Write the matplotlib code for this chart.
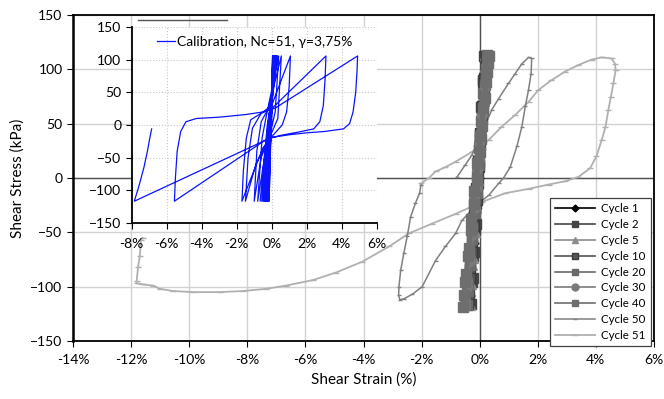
import matplotlib
matplotlib.use("Agg")
import matplotlib.pyplot as plt
import matplotlib.ticker as ticker
from matplotlib.lines import Line2D

plt.rcParams["font.family"] = ["Lato", "DejaVu Sans"]

# ---- laboratory cycles (main plot) ----
c1_strain = [0.00, 0.03, 0.06, 0.10, 0.13, 0.10, 0.06, 0.02, -0.04, -0.09, -0.15, -0.20, -0.25, -0.21, -0.16, -0.10, -0.05]
c1_stress = [0, 25, 55, 85, 110, 80, 50, 20, -10, -40, -70, -95, -115, -90, -60, -30, -5]

c2_strain = [-0.07, -0.04, 0.00, 0.05, 0.10, 0.16, 0.12, 0.07, 0.02, -0.03, -0.08, -0.13, -0.19, -0.24, -0.30, -0.27, -0.22, -0.17, -0.12]
c2_stress = [-5, 15, 40, 65, 90, 112, 88, 62, 36, 10, -15, -42, -68, -92, -116, -96, -72, -48, -24]

c5_strain = [-0.12, -0.06, 0.00, 0.06, 0.115, 0.16, 0.19, 0.14, 0.08, 0.02, -0.04, -0.10, -0.16, -0.22, -0.27, -0.32, -0.35, -0.30, -0.23, -0.17]
c5_stress = [-28, -2, 24, 50, 76, 100, 113, 96, 72, 47, 22, -3, -28, -54, -80, -104, -117, -98, -74, -50]

c10_strain = [-0.11, -0.05, 0.02, 0.085, 0.15, 0.20, 0.22, 0.15, 0.08, 0.00, -0.07, -0.13, -0.20, -0.27, -0.33, -0.38, -0.40, -0.33, -0.25, -0.18]
c10_stress = [-20, 5, 30, 55, 80, 104, 112, 92, 66, 41, 16, -9, -34, -59, -84, -108, -116, -92, -68, -44]

c20_strain = [-0.11, -0.03, 0.04, 0.12, 0.18, 0.24, 0.25, 0.21, 0.13, 0.05, -0.03, -0.11, -0.19, -0.27, -0.34, -0.41, -0.45, -0.41, -0.32, -0.25, -0.17]
c20_stress = [-14, 12, 36, 62, 86, 108, 113, 100, 78, 52, 28, 2, -24, -50, -76, -100, -117, -104, -80, -56, -32]

c30_strain = [-0.10, -0.02, 0.06, 0.15, 0.22, 0.28, 0.25, 0.17, 0.08, -0.02, -0.10, -0.19, -0.27, -0.36, -0.43, -0.49, -0.51, -0.44, -0.35, -0.26, -0.17]
c30_stress = [-8, 18, 42, 68, 92, 110, 104, 84, 58, 33, 8, -18, -44, -70, -94, -112, -118, -100, -76, -52, -28]

c40_strain = [-0.10, 0.00, 0.08, 0.18, 0.26, 0.31, 0.28, 0.21, 0.11, 0.00, -0.09, -0.19, -0.29, -0.38, -0.47, -0.54, -0.57, -0.49, -0.39, -0.29, -0.19]
c40_stress = [-2, 24, 48, 74, 98, 112, 106, 88, 64, 39, 14, -12, -38, -64, -88, -108, -119, -96, -72, -48, -24]

c50_strain = [-0.78, -0.50, -0.27, -0.15, 0.15, 0.42, 0.65, 0.99, 1.22, 1.45, 1.68, 1.79, 1.77, 1.68, 1.57,
              1.45, 1.28, 1.05, 0.82, 0.65, 0.31, -0.03, -0.26, -0.61, -0.83, -1.18, -1.52, -1.98, -2.32,
              -2.60, -2.75, -2.79, -2.78, -2.72, -2.61, -2.49, -2.38, -2.21, -2.07, -2.02]
c50_stress = [1, 12, 21, 29, 46, 63, 73, 87, 96, 105, 111, 110, 96, 81, 66,
              47, 29, 10, 0, -5, -16, -23, -29, -39, -51, -63, -76, -100, -107,
              -111, -112, -108, -100, -85, -69, -53, -36, -23, -14, -6]

c51_strain = [-2.02, -1.75, -1.52, -1.18, -0.83, -0.27, 0.31, 0.75, 1.22, 1.68, 2.02, 2.47, 2.94, 3.40, 3.85,
              4.20, 4.54, 4.66, 4.68, 4.60, 4.52, 4.43, 4.33, 4.20, 4.02, 3.80, 3.40, 2.94, 2.37, 1.68,
              0.88, 0.08, -0.83, -1.64, -2.44, -3.12, -4.04, -4.95, -5.75, -6.67, -7.35, -8.15, -8.95,
              -9.87, -10.56, -11.01, -11.24, -11.58, -11.81, -11.81, -11.76, -11.70, -11.66, -11.60]
c51_stress = [-5, 0, 6, 10, 15, 24, 35, 47, 58, 70, 81, 90, 98, 104, 109,
              111, 110, 105, 99, 87, 75, 63, 47, 35, 20, 9, 1, -3, -6, -10,
              -14, -22, -33, -42, -51, -63, -77, -87, -94, -99, -102, -104, -105,
              -105, -104, -102, -99, -98, -97, -95, -82, -72, -57, -55]

# ---- calibration (inset) ----
calib_strain = [0.00, 0.05, -0.04, -0.15, -0.03,
                0.06, -0.04, -0.18, -0.05,
                0.08, -0.03, -0.20, -0.06,
                0.09, -0.03, -0.23, -0.08,
                0.10, -0.04, -0.25, -0.09,
                0.12, -0.04, -0.28, -0.10,
                0.13, -0.05, -0.30, -0.12,
                0.15, -0.06, -0.33, -0.13,
                0.17, -0.06, -0.36, -0.15,
                0.19, -0.07, -0.40, -0.16,
                0.21, -0.08, -0.45, -0.18,
                0.23, -0.10, -0.50, -0.20,
                0.26, -0.12, -0.57, -0.22,
                0.30, -0.15, -0.66, -0.25,
                0.33, -0.18, -0.80, -0.55, -0.30,
                0.40, 0.20, -0.10, -0.60, -1.00, -0.85, -0.60, -0.20,
                0.55, 0.35, -0.10, -0.90, -1.50, -1.35, -1.10, -0.60, 0.00,
                1.07, 1.00, 0.85, 0.60, 0.00, -0.50, -1.70,
                -1.62, -1.45, -1.20, -0.60, 0.00, 3.10,
                3.05, 2.95, 2.75, 2.40, 1.50, 0.50, -0.30, -5.56,
                -5.50, -5.40, -5.20, -4.90, -4.30, -3.00, -1.50, -0.50, 0.20, 4.91,
                4.88, 4.80, 4.65, 4.45, 4.10, 3.00, 2.00, 1.00, 0.00, -7.85,
                -7.60, -7.30, -7.10, -6.98, -6.86]
calib_stress = [0, 106, 0, -117, 0,
                106, 0, -117, 0,
                106, 0, -117, 0,
                106, 0, -117, 0,
                106, 0, -117, 0,
                106, 0, -117, 0,
                106, 0, -117, 0,
                106, 0, -117, 0,
                106, 0, -117, 0,
                106, 0, -117, 0,
                106, 0, -117, 0,
                106, 0, -117, 0,
                106, 0, -117, 0,
                106, 0, -117, 0,
                106, -10, -117, -20, 15,
                106, 20, -15, -50, -117, -40, 5, 25,
                106, 10, -18, -60, -117, -50, -5, 18, 30,
                106, 60, 20, 0, -18, -35, -117,
                -70, -20, 8, 18, 25, 106,
                70, 30, 5, -6, -11, -16, -22, -117,
                -80, -40, -10, 5, 10, 12, 16, 20, 26, 106,
                85, 50, 20, 2, -6, -10, -12, -15, -19, -117,
                -95, -65, -40, -22, -6]

fig = plt.figure(figsize=(6.64, 3.99), dpi=100)
ax = fig.add_axes([73 / 664, 1 - 341 / 399, 581 / 664, 326 / 399])

ax.set_xlim(-14, 6)
ax.set_ylim(-150, 150)
ax.set_xticks(range(-14, 7, 2))
ax.set_yticks(range(-150, 151, 50))
ax.xaxis.set_major_formatter(ticker.FuncFormatter(lambda x, _: f"{x:.0f}%"))
ax.grid(True, color="#d2d2d2", linewidth=1)
ax.set_axisbelow(True)
ax.axhline(0, color="#505050", linewidth=1, zorder=1)
ax.axvline(0, color="#505050", linewidth=1, zorder=1)
for side in ["left", "right", "top", "bottom"]:
    ax.spines[side].set_color("black")
    ax.spines[side].set_linewidth(1.3)
ax.spines["left"].set_linewidth(1.8)
ax.tick_params(labelsize=10, length=4, color="black")
ax.tick_params(axis="x", pad=5)
ax.set_xlabel("Shear Strain (%)", fontsize=11, labelpad=5)
ax.set_ylabel("Shear Stress (kPa)", fontsize=11, labelpad=4)

ax.plot(c51_strain, c51_stress, color="#b0b0b0", lw=1.3, marker="_", ms=4, mew=1.0)
ax.plot(c50_strain, c50_stress, color="#808080", lw=1.1, marker="_", ms=3, mew=1.0)
ax.plot(c1_strain, c1_stress, color="black", lw=1.2, marker="D", ms=3.5)
ax.plot(c2_strain, c2_stress, color="#444444", lw=3, marker="s", ms=7)
ax.plot(c5_strain, c5_stress, color="#8c8c8c", lw=3, marker="^", ms=7)
ax.plot(c10_strain, c10_stress, color="#555555", lw=3, marker="s", ms=7, mec="#3a3a3a")
ax.plot(c20_strain, c20_stress, color="#6a6a6a", lw=3, marker="s", ms=7)
ax.plot(c30_strain, c30_stress, color="#7a7a7a", lw=3, marker="o", ms=7)
ax.plot(c40_strain, c40_stress, color="#6e6e6e", lw=3, marker="s", ms=7)

leg_handles = [
    Line2D([], [], color="black", lw=1.2, marker="D", ms=3.5),
    Line2D([], [], color="#444444", lw=1.2, marker="s", ms=5),
    Line2D([], [], color="#8c8c8c", lw=1.2, marker="^", ms=5),
    Line2D([], [], color="#555555", lw=1.2, marker="s", ms=5, mec="#3a3a3a"),
    Line2D([], [], color="#6a6a6a", lw=1.2, marker="s", ms=5),
    Line2D([], [], color="#7a7a7a", lw=1.2, marker="o", ms=5),
    Line2D([], [], color="#6e6e6e", lw=1.2, marker="s", ms=5),
    Line2D([], [], color="#808080", lw=1.1, marker="_", ms=3),
    Line2D([], [], color="#b0b0b0", lw=1.3, marker="_", ms=4),
]
leg_labels = ["Cycle 1", "Cycle 2", "Cycle 5", "Cycle 10", "Cycle 20",
              "Cycle 30", "Cycle 40", "Cycle 50", "Cycle 51"]
leg = ax.legend(leg_handles, leg_labels,
                loc="upper right", bbox_to_anchor=(651 / 664, 1 - 198 / 399),
                bbox_transform=fig.transFigure, fontsize=8.3, frameon=True,
                fancybox=False, edgecolor="#404040", framealpha=1,
                borderaxespad=0, handlelength=3.4, labelspacing=0.42,
                handletextpad=0.6, borderpad=0.45)
leg.get_frame().set_linewidth(0.9)

# ---- inset ----
ax_in = fig.add_axes([131.7 / 664, 1 - 222.7 / 399, 245 / 664, 195.4 / 399])
ax_in.set_facecolor("white")
ax_in.plot(calib_strain, calib_stress, color="#0a14ff", lw=0.9,
           label="Calibration, Nc=51, \u03b3=3,75%")
ax_in.set_xlim(-8, 6)
ax_in.set_ylim(-150, 150)
ax_in.set_xticks(range(-8, 7, 2))
ax_in.set_yticks(range(-150, 151, 50))
ax_in.xaxis.set_major_formatter(ticker.FuncFormatter(lambda x, _: f"{x:.0f}%"))
ax_in.grid(True, linestyle=":", color="#c8c8c8", linewidth=0.8)
ax_in.spines["top"].set_visible(False)
ax_in.spines["right"].set_visible(False)
ax_in.spines["left"].set_linewidth(1.3)
ax_in.spines["bottom"].set_linewidth(1.3)
ax_in.tick_params(labelsize=10, length=4)
ax_in.tick_params(axis="x", pad=7)
ax_in.legend(loc="upper left", bbox_to_anchor=(0.07, 1.0), frameon=False,
             fontsize=10, handlelength=1.3, handletextpad=0.15, borderaxespad=0.2)

fig.add_artist(Line2D([138 / 664, 227 / 664], [1 - 20 / 399, 1 - 20 / 399],
                      color="#555555", lw=1))

fig.savefig("out.png", dpi=100)
plt.close(fig)
